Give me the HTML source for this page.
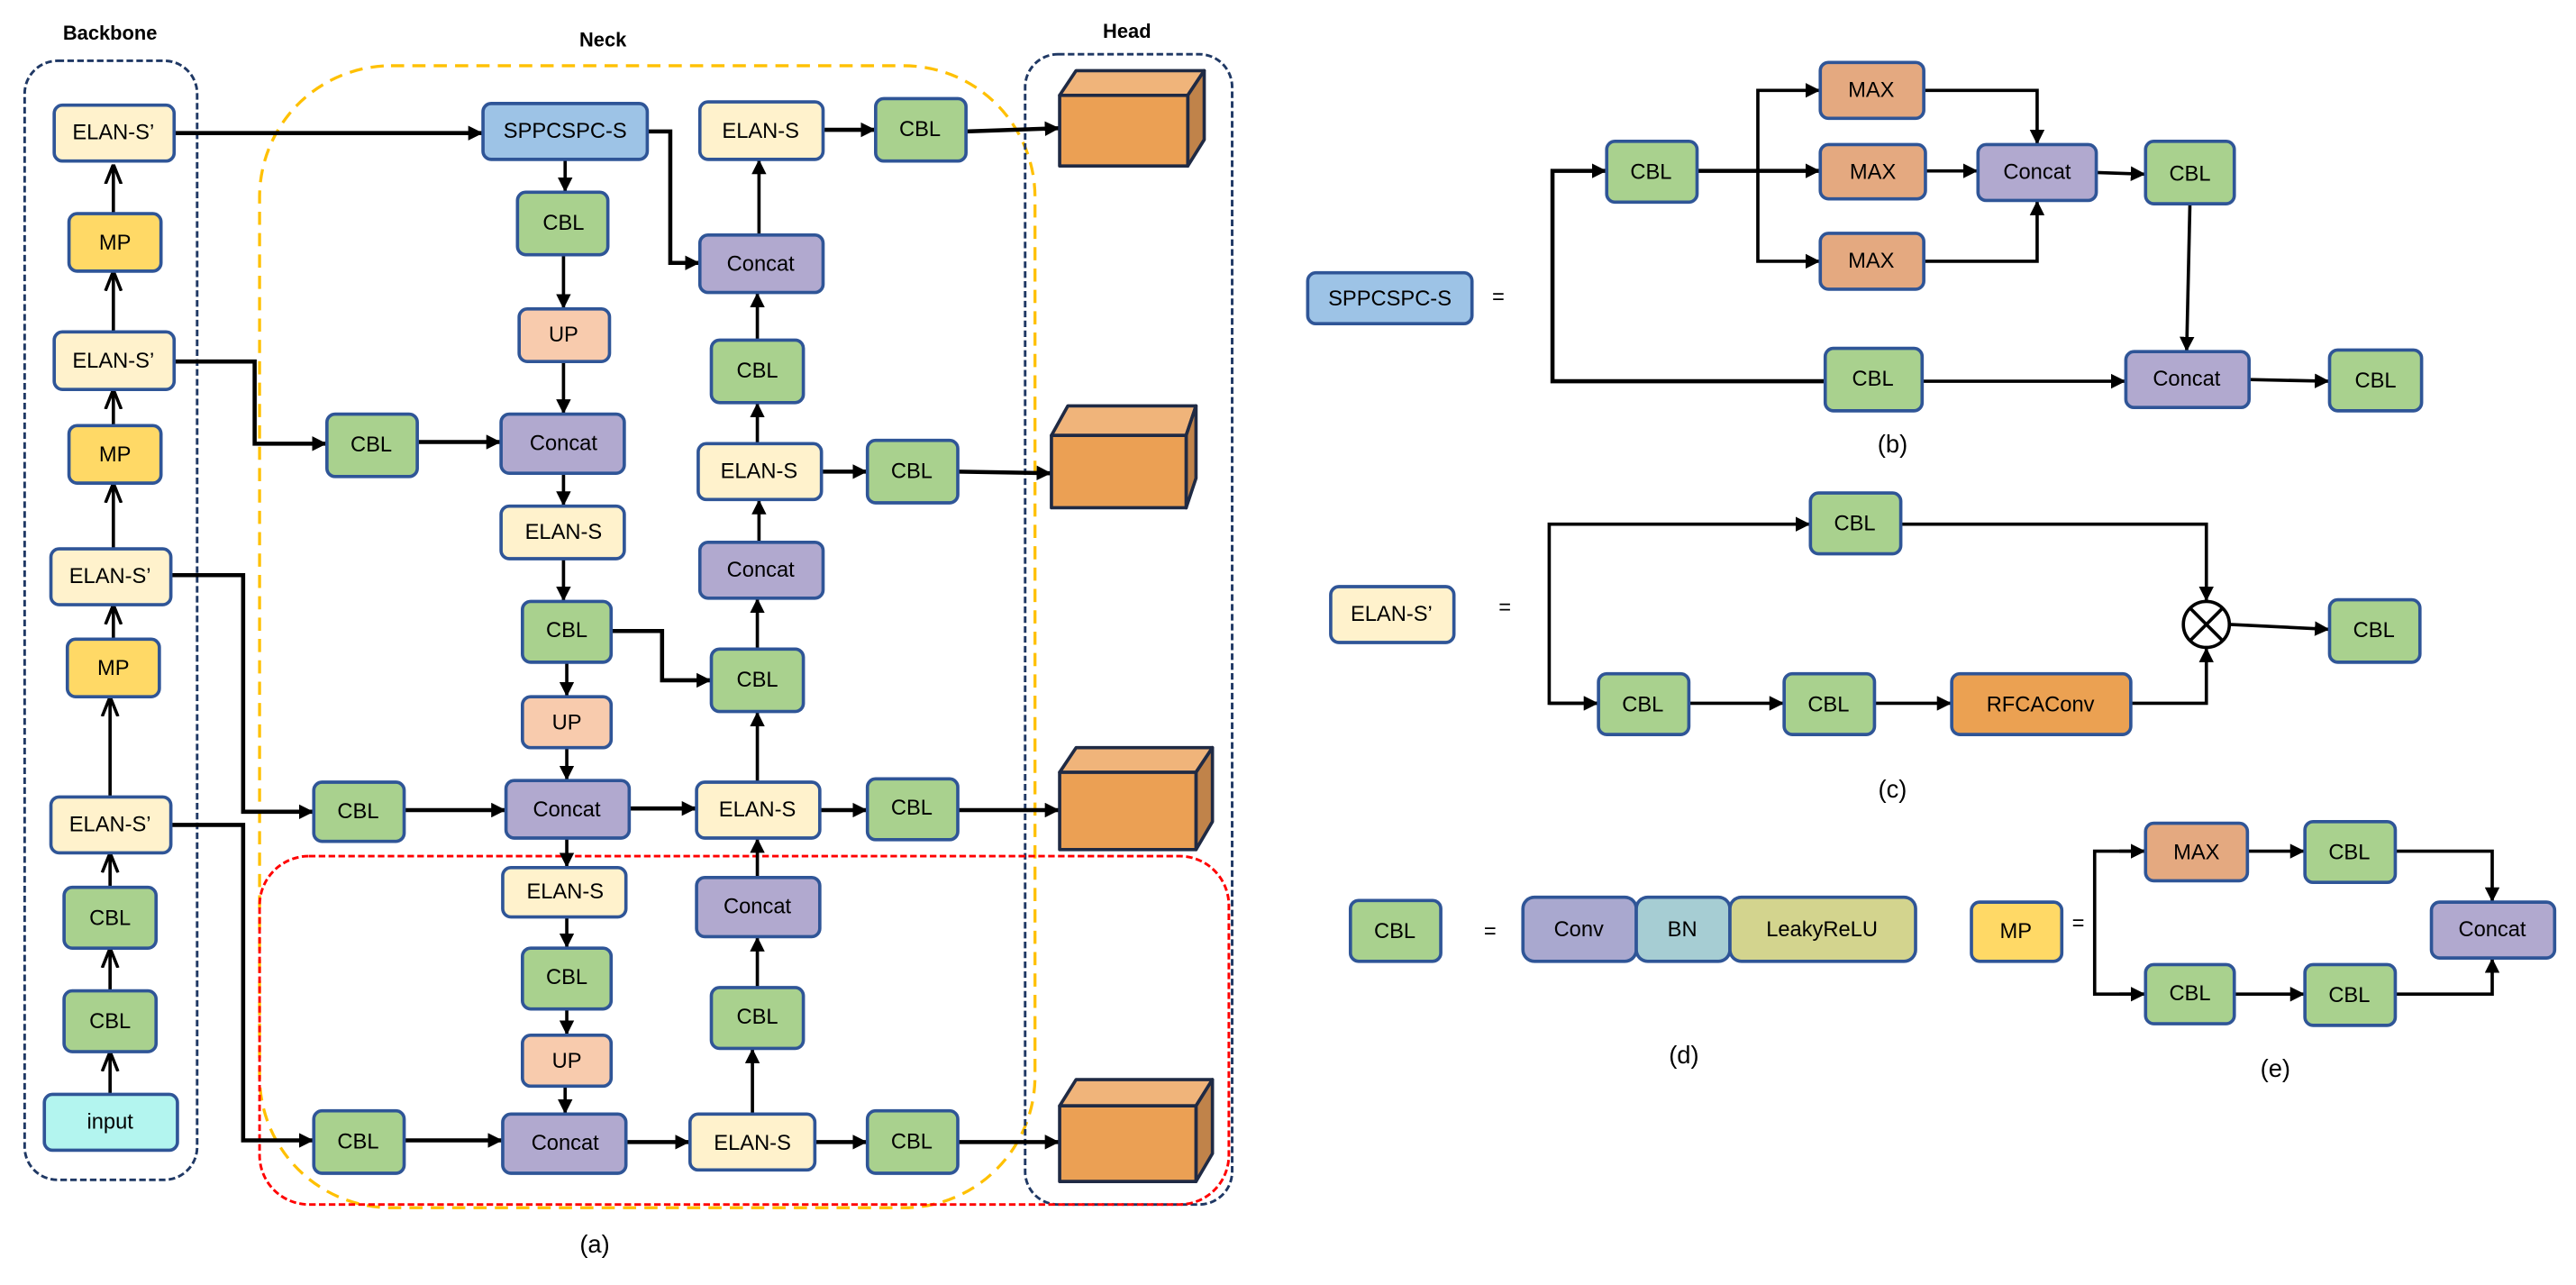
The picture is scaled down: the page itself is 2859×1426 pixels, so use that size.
<!DOCTYPE html>
<html><head><meta charset="utf-8"><style>
html,body{margin:0;padding:0;background:#fff;}
svg{display:block;}
text{font-family:"Liberation Sans Narrow","Liberation Sans",sans-serif;font-size:13px;text-anchor:middle;dominant-baseline:central;fill:#000;}
.n{stroke:#2F5597;stroke-width:2;}
.l{stroke:#000;stroke-width:2;fill:none;}
.y{fill:#FFF2CC}.g{fill:#A9D18E}.p{fill:#B1A9CF}.u{fill:#F8CBAD}.m{fill:#FFD966}.b{fill:#9DC3E6}.i{fill:#B3F5EF}.x{fill:#E4A980}.o{fill:#EBA152}
</style></head><body>
<svg width="2859" height="1426" viewBox="0 0 1568 782" preserveAspectRatio="none" xmlns="http://www.w3.org/2000/svg">
<defs>
<marker id="a" viewBox="0 0 10 10" refX="10" refY="5" markerWidth="9" markerHeight="9" orient="auto" markerUnits="userSpaceOnUse"><path d="M0,0 L10,5 L0,10 z" fill="#000"/></marker>
<marker id="v" viewBox="0 0 10 10" refX="10" refY="5" markerWidth="12" markerHeight="12" orient="auto" markerUnits="userSpaceOnUse"><path d="M0,1 L10,5 L0,9" fill="none" stroke="#000" stroke-width="1.6"/></marker>
</defs>
<rect x="15" y="37" width="105" height="681" rx="20" fill="none" stroke="#1F3864" stroke-width="1.6" stroke-dasharray="4,2"/>
<rect x="158" y="40" width="472" height="695" rx="80" fill="none" stroke="#FFC000" stroke-width="1.8" stroke-dasharray="8,5"/>
<rect x="624" y="33" width="126" height="700" rx="20" fill="none" stroke="#1F3864" stroke-width="1.6" stroke-dasharray="4,2"/>
<rect x="158" y="521" width="590" height="212" rx="30" fill="none" stroke="#FF0000" stroke-width="1.6" stroke-dasharray="4,2"/>
<text x="67" y="20" style="font-weight:bold;font-size:12px">Backbone</text>
<text x="367" y="24" style="font-weight:bold;font-size:12px">Neck</text>
<text x="686" y="19" style="font-weight:bold;font-size:12px">Head</text>
<text x="362" y="757" style="font-size:15px">(a)</text>

<g class="l">
<line x1="69" y1="130" x2="69" y2="100" marker-end="url(#v)"/>
<line x1="69" y1="202" x2="69" y2="165" marker-end="url(#v)"/>
<line x1="69" y1="259" x2="69" y2="237" marker-end="url(#v)"/>
<line x1="69" y1="334" x2="69" y2="294" marker-end="url(#v)"/>
<line x1="69" y1="389" x2="69" y2="368" marker-end="url(#v)"/>
<line x1="67" y1="485" x2="67" y2="424" marker-end="url(#v)"/>
<line x1="67" y1="540" x2="67" y2="519" marker-end="url(#v)"/>
<line x1="67" y1="603" x2="67" y2="577" marker-end="url(#v)"/>
<line x1="67" y1="666" x2="67" y2="640" marker-end="url(#v)"/>
</g>
<g class="l" style="stroke-width:2.5">
<line x1="106" y1="81" x2="294" y2="81" marker-end="url(#a)"/>
<polyline points="394,80 408,80 408,160 426,160" marker-end="url(#a)"/>
<polyline points="106,220 155,220 155,270 199,270" marker-end="url(#a)"/>
<polyline points="104,350 148,350 148,494 191,494" marker-end="url(#a)"/>
<polyline points="104,502 148,502 148,694 191,694" marker-end="url(#a)"/>
<polyline points="372,384 403,384 403,414 433,414" marker-end="url(#a)"/>
<line x1="254" y1="269" x2="305" y2="269" marker-end="url(#a)"/>
<line x1="246" y1="493" x2="308" y2="493" marker-end="url(#a)"/>
<line x1="246" y1="694" x2="306" y2="694" marker-end="url(#a)"/>
<line x1="383" y1="492" x2="424" y2="492" marker-end="url(#a)"/>
<line x1="381" y1="695" x2="420" y2="695" marker-end="url(#a)"/>
<line x1="501" y1="79" x2="533" y2="79" marker-end="url(#a)"/>
<line x1="500" y1="287" x2="528" y2="287" marker-end="url(#a)"/>
<line x1="499" y1="493" x2="528" y2="493" marker-end="url(#a)"/>
<line x1="496" y1="695" x2="528" y2="695" marker-end="url(#a)"/>
<line x1="588" y1="80" x2="645" y2="78" marker-end="url(#a)"/>
<line x1="583" y1="287" x2="640" y2="288" marker-end="url(#a)"/>
<line x1="583" y1="493" x2="645" y2="493" marker-end="url(#a)"/>
<line x1="583" y1="695" x2="645" y2="695" marker-end="url(#a)"/>
</g>
<g class="l">
<line x1="344" y1="97" x2="344" y2="117" marker-end="url(#a)"/>
<line x1="343" y1="155" x2="343" y2="188" marker-end="url(#a)"/>
<line x1="343" y1="220" x2="343" y2="252" marker-end="url(#a)"/>
<line x1="343" y1="288" x2="343" y2="308" marker-end="url(#a)"/>
<line x1="343" y1="340" x2="343" y2="366" marker-end="url(#a)"/>
<line x1="345" y1="403" x2="345" y2="424" marker-end="url(#a)"/>
<line x1="345" y1="455" x2="345" y2="475" marker-end="url(#a)"/>
<line x1="345" y1="510" x2="345" y2="528" marker-end="url(#a)"/>
<line x1="345" y1="558" x2="345" y2="577" marker-end="url(#a)"/>
<line x1="345" y1="614" x2="345" y2="630" marker-end="url(#a)"/>
<line x1="344" y1="661" x2="344" y2="678" marker-end="url(#a)"/>
<line x1="462" y1="143" x2="462" y2="97" marker-end="url(#a)"/>
<line x1="461" y1="207" x2="461" y2="178" marker-end="url(#a)"/>
<line x1="461" y1="270" x2="461" y2="245" marker-end="url(#a)"/>
<line x1="462" y1="330" x2="462" y2="304" marker-end="url(#a)"/>
<line x1="461" y1="395" x2="461" y2="364" marker-end="url(#a)"/>
<line x1="461" y1="476" x2="461" y2="433" marker-end="url(#a)"/>
<line x1="461" y1="534" x2="461" y2="510" marker-end="url(#a)"/>
<line x1="461" y1="601" x2="461" y2="570" marker-end="url(#a)"/>
<line x1="458" y1="678" x2="458" y2="638" marker-end="url(#a)"/>
</g>

<rect class="n y" x="33" y="64" width="73" height="34" rx="5"/><text x="69" y="81">ELAN-S’</text>
<rect class="n m" x="42" y="130" width="56" height="35" rx="5"/><text x="70" y="148">MP</text>
<rect class="n y" x="33" y="202" width="73" height="35" rx="5"/><text x="69" y="220">ELAN-S’</text>
<rect class="n m" x="42" y="259" width="56" height="35" rx="5"/><text x="70" y="277">MP</text>
<rect class="n y" x="31" y="334" width="73" height="34" rx="5"/><text x="67" y="351">ELAN-S’</text>
<rect class="n m" x="41" y="389" width="56" height="35" rx="5"/><text x="69" y="407">MP</text>
<rect class="n y" x="31" y="485" width="73" height="34" rx="5"/><text x="67" y="502">ELAN-S’</text>
<rect class="n g" x="39" y="540" width="56" height="37" rx="5"/><text x="67" y="559">CBL</text>
<rect class="n g" x="39" y="603" width="56" height="37" rx="5"/><text x="67" y="622">CBL</text>
<rect class="n i" x="27" y="666" width="81" height="34" rx="5"/><text x="67" y="683">input</text>

<rect class="n b" x="294" y="63" width="100" height="34" rx="5"/><text x="344" y="80">SPPCSPC-S</text>
<rect class="n g" x="315" y="117" width="55" height="38" rx="5"/><text x="343" y="136">CBL</text>
<rect class="n u" x="316" y="188" width="55" height="32" rx="5"/><text x="343" y="204">UP</text>
<rect class="n p" x="305" y="252" width="75" height="36" rx="5"/><text x="343" y="270">Concat</text>
<rect class="n y" x="305" y="308" width="75" height="32" rx="5"/><text x="343" y="324">ELAN-S</text>
<rect class="n g" x="318" y="366" width="54" height="37" rx="5"/><text x="345" y="384">CBL</text>
<rect class="n u" x="318" y="424" width="54" height="31" rx="5"/><text x="345" y="440">UP</text>
<rect class="n p" x="308" y="475" width="75" height="35" rx="5"/><text x="345" y="493">Concat</text>
<rect class="n y" x="306" y="528" width="75" height="30" rx="5"/><text x="344" y="543">ELAN-S</text>
<rect class="n g" x="318" y="577" width="54" height="37" rx="5"/><text x="345" y="595">CBL</text>
<rect class="n u" x="318" y="630" width="54" height="31" rx="5"/><text x="345" y="646">UP</text>
<rect class="n p" x="306" y="678" width="75" height="36" rx="5"/><text x="344" y="696">Concat</text>
<rect class="n g" x="199" y="252" width="55" height="38" rx="5"/><text x="226" y="271">CBL</text>
<rect class="n g" x="191" y="476" width="55" height="36" rx="5"/><text x="218" y="494">CBL</text>
<rect class="n g" x="191" y="676" width="55" height="38" rx="5"/><text x="218" y="695">CBL</text>
<rect class="n y" x="426" y="62" width="75" height="35" rx="5"/><text x="463" y="80">ELAN-S</text>
<rect class="n g" x="533" y="60" width="55" height="38" rx="5"/><text x="560" y="79">CBL</text>
<rect class="n p" x="426" y="143" width="75" height="35" rx="5"/><text x="463" y="161">Concat</text>
<rect class="n g" x="433" y="207" width="56" height="38" rx="5"/><text x="461" y="226">CBL</text>
<rect class="n y" x="425" y="270" width="75" height="34" rx="5"/><text x="462" y="287">ELAN-S</text>
<rect class="n g" x="528" y="268" width="55" height="38" rx="5"/><text x="555" y="287">CBL</text>
<rect class="n p" x="426" y="330" width="75" height="34" rx="5"/><text x="463" y="347">Concat</text>
<rect class="n g" x="433" y="395" width="56" height="38" rx="5"/><text x="461" y="414">CBL</text>
<rect class="n y" x="424" y="476" width="75" height="34" rx="5"/><text x="461" y="493">ELAN-S</text>
<rect class="n g" x="528" y="474" width="55" height="37" rx="5"/><text x="555" y="492">CBL</text>
<rect class="n p" x="424" y="534" width="75" height="36" rx="5"/><text x="461" y="552">Concat</text>
<rect class="n g" x="433" y="601" width="56" height="37" rx="5"/><text x="461" y="619">CBL</text>
<rect class="n y" x="420" y="678" width="76" height="34" rx="5"/><text x="458" y="696">ELAN-S</text>
<rect class="n g" x="528" y="676" width="55" height="38" rx="5"/><text x="555" y="695">CBL</text>

<g stroke="#1F2A44" stroke-width="2" stroke-linejoin="round">
<g transform="translate(645,58)"><path d="M0,0 L10,-15 L88,-15 L78,0 z" fill="#F0B47A"/><path d="M78,0 L88,-15 L88,27 L78,43 z" fill="#C0834A"/><rect x="0" y="0" width="78" height="43" fill="#EBA054"/></g>
<g transform="translate(640,265)"><path d="M0,0 L10,-18 L88,-18 L82,0 z" fill="#F0B47A"/><path d="M82,0 L88,-18 L88,26 L82,44 z" fill="#C0834A"/><rect x="0" y="0" width="82" height="44" fill="#EBA054"/></g>
<g transform="translate(645,470)"><path d="M0,0 L10,-15 L93,-15 L83,0 z" fill="#F0B47A"/><path d="M83,0 L93,-15 L93,30 L83,47 z" fill="#C0834A"/><rect x="0" y="0" width="83" height="47" fill="#EBA054"/></g>
<g transform="translate(645,673)"><path d="M0,0 L10,-16 L93,-16 L83,0 z" fill="#F0B47A"/><path d="M83,0 L93,-16 L93,29 L83,46 z" fill="#C0834A"/><rect x="0" y="0" width="83" height="46" fill="#EBA054"/></g>
</g>

<g class="l">
<polyline points="1111,232 945,232 945,104 978,104" marker-end="url(#a)" style="stroke-width:2.5"/>
<line x1="1033" y1="104" x2="1108" y2="104" marker-end="url(#a)" style="stroke-width:2.5"/>
<polyline points="1070,104 1070,55 1108,55" marker-end="url(#a)"/>
<polyline points="1070,104 1070,159 1108,159" marker-end="url(#a)"/>
<polyline points="1171,55 1240,55 1240,88" marker-end="url(#a)"/>
<polyline points="1171,159 1240,159 1240,122" marker-end="url(#a)"/>
<line x1="1171" y1="104" x2="1204" y2="104" marker-end="url(#a)"/>
<line x1="1276" y1="105" x2="1306" y2="106" marker-end="url(#a)"/>
<line x1="1333" y1="124" x2="1331" y2="214" marker-end="url(#a)"/>
<line x1="1170" y1="232" x2="1294" y2="232" marker-end="url(#a)"/>
<line x1="1369" y1="231" x2="1418" y2="232" marker-end="url(#a)"/>
</g>
<rect class="n b" x="796" y="166" width="100" height="31" rx="5"/><text x="846" y="182">SPPCSPC-S</text>
<text x="912" y="181">=</text>
<rect class="n g" x="978" y="86" width="55" height="37" rx="5"/><text x="1005" y="105">CBL</text>
<rect class="n x" x="1108" y="38" width="63" height="34" rx="5"/><text x="1139" y="55">MAX</text>
<rect class="n x" x="1108" y="88" width="64" height="33" rx="5"/><text x="1140" y="105">MAX</text>
<rect class="n x" x="1108" y="142" width="63" height="34" rx="5"/><text x="1139" y="159">MAX</text>
<rect class="n p" x="1204" y="88" width="72" height="34" rx="5"/><text x="1240" y="105">Concat</text>
<rect class="n g" x="1306" y="86" width="54" height="38" rx="5"/><text x="1333" y="106">CBL</text>
<rect class="n g" x="1111" y="212" width="59" height="38" rx="5"/><text x="1140" y="231">CBL</text>
<rect class="n p" x="1294" y="214" width="75" height="34" rx="5"/><text x="1331" y="231">Concat</text>
<rect class="n g" x="1418" y="213" width="56" height="37" rx="5"/><text x="1446" y="232">CBL</text>
<text x="1152" y="270" style="font-size:15px">(b)</text>

<g class="l">
<polyline points="973,428 943,428 943,319 1102,319" marker-end="url(#a)"/>
<line x1="943" y1="428" x2="973" y2="428" marker-end="url(#a)"/>
<line x1="1028" y1="428" x2="1086" y2="428" marker-end="url(#a)"/>
<line x1="1141" y1="428" x2="1188" y2="428" marker-end="url(#a)"/>
<polyline points="1157,319 1343,319 1343,366" marker-end="url(#a)"/>
<polyline points="1297,428 1343,428 1343,394" marker-end="url(#a)"/>
<line x1="1357" y1="380" x2="1418" y2="383" marker-end="url(#a)"/>
<circle cx="1343" cy="380" r="14" fill="#fff"/>
<line x1="1333" y1="370" x2="1353" y2="390"/><line x1="1353" y1="370" x2="1333" y2="390"/>
</g>
<rect class="n y" x="810" y="357" width="75" height="34" rx="5"/><text x="847" y="374">ELAN-S’</text>
<text x="916" y="370">=</text>
<rect class="n g" x="1102" y="300" width="55" height="37" rx="5"/><text x="1129" y="319">CBL</text>
<rect class="n g" x="973" y="410" width="55" height="37" rx="5"/><text x="1000" y="429">CBL</text>
<rect class="n g" x="1086" y="410" width="55" height="37" rx="5"/><text x="1113" y="429">CBL</text>
<rect class="n o" x="1188" y="410" width="109" height="37" rx="5"/><text x="1242" y="429">RFCAConv</text>
<rect class="n g" x="1418" y="365" width="55" height="38" rx="5"/><text x="1445" y="384">CBL</text>
<text x="1152" y="480" style="font-size:15px">(c)</text>

<rect class="n g" x="822" y="548" width="55" height="37" rx="5"/><text x="849" y="567">CBL</text>
<text x="907" y="567">=</text>
<rect class="n" x="927" y="546" width="69" height="39" rx="7" fill="#A9A8CF"/><text x="961" y="566">Conv</text>
<rect class="n" x="996" y="546" width="57" height="39" rx="7" fill="#A6CDD3"/><text x="1024" y="566">BN</text>
<rect class="n" x="1053" y="546" width="113" height="39" rx="7" fill="#D3D48E"/><text x="1109" y="566">LeakyReLU</text>
<text x="1025" y="642" style="font-size:15px">(d)</text>

<g class="l">
<polyline points="1306,518 1275,518 1275,605 1306,605"/>
<line x1="1290" y1="518" x2="1306" y2="518" marker-end="url(#a)"/>
<line x1="1290" y1="605" x2="1306" y2="605" marker-end="url(#a)"/>
<line x1="1368" y1="518" x2="1403" y2="518" marker-end="url(#a)"/>
<line x1="1360" y1="605" x2="1403" y2="605" marker-end="url(#a)"/>
<polyline points="1458,518 1517,518 1517,549" marker-end="url(#a)"/>
<polyline points="1458,605 1517,605 1517,583" marker-end="url(#a)"/>
</g>
<rect class="n m" x="1200" y="549" width="55" height="36" rx="5"/><text x="1227" y="567">MP</text>
<text x="1265" y="562">=</text>
<rect class="n x" x="1306" y="501" width="62" height="35" rx="5"/><text x="1337" y="519">MAX</text>
<rect class="n g" x="1403" y="500" width="55" height="37" rx="5"/><text x="1430" y="519">CBL</text>
<rect class="n g" x="1306" y="587" width="54" height="36" rx="5"/><text x="1333" y="605">CBL</text>
<rect class="n g" x="1403" y="587" width="55" height="37" rx="5"/><text x="1430" y="606">CBL</text>
<rect class="n p" x="1480" y="549" width="75" height="34" rx="5"/><text x="1517" y="566">Concat</text>
<text x="1385" y="650" style="font-size:15px">(e)</text>
</svg>
</body></html>
